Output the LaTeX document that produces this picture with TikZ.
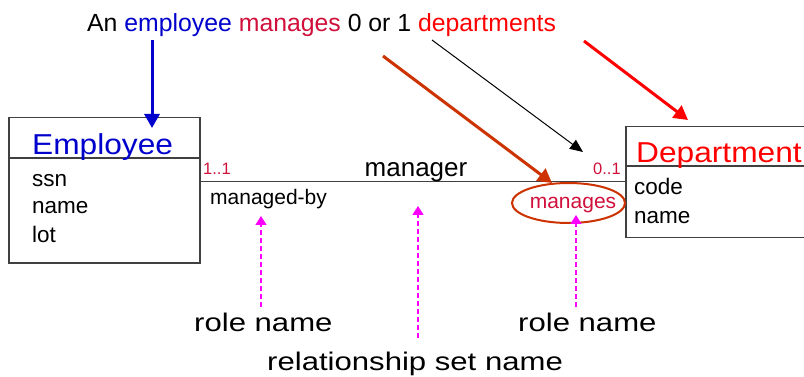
\documentclass[tikz,border=0pt]{standalone}
\usepackage{fontspec}
\setmainfont{Liberation Sans}
\newfontfamily\titlesans[FakeStretch=1.1]{Liberation Sans}
\newfontfamily\widesans[FakeStretch=1.22]{Liberation Sans}
\usetikzlibrary{arrows.meta,shapes.geometric}

\definecolor{empblue}{HTML}{0000CC}
\definecolor{crimsonred}{HTML}{D0103A}
\definecolor{deptred}{HTML}{FF0000}
\definecolor{rustline}{HTML}{CC3300}
\definecolor{boxgray}{HTML}{404040}
\definecolor{hintmag}{HTML}{FF00FF}

\newcommand{\fs}[1]{\fontsize{#1}{#1}\selectfont}

\tikzset{
  entitybox/.style={draw=boxgray, line width=1.5pt, rectangle, inner sep=0pt, anchor=north west},
  txt/.style={inner sep=0pt, anchor=base west},
  ctxt/.style={inner sep=0pt, anchor=base},
  bigarrow/.style={line width=3pt, -{Triangle[length=14pt,width=15pt]}},
  thinarrow/.style={line width=1pt, -{Triangle[length=13pt,width=11pt]}},
  hintarrow/.style={hintmag, line width=1.4pt, dash pattern=on 5pt off 3pt,
    -{Triangle[length=9pt,width=11pt]}},
}

\begin{document}
\begin{tikzpicture}[x=1pt, y=-1pt]
  \useasboundingbox (0,0) rectangle (804,377);
  \clip (0,0) rectangle (804,377);

  % sentence on top
  \node[txt] (sentence) at (87,32) {\fs{24.8}An \textcolor{empblue}{employee}
    \textcolor{crimsonred}{manages} 0 or 1 \textcolor{deptred}{departments}};

  % Employee entity
  \node[entitybox, minimum width=191pt, minimum height=145pt] (emp) at (8,117) {};
  \draw[boxgray, line width=1.5pt] (emp.west |- 0,158) -- (emp.east |- 0,158);
  \node[txt, text=empblue] (emptitle) at (32,155) {\titlesans\fs{28.8}Employee};
  \node[txt] (essn) at (32,186) {\fs{22.5}ssn};
  \node[txt] (ename) at (32,214) {\fs{22.5}name};
  \node[txt] (elot) at (32,243) {\fs{22.5}lot};

  % Department entity
  \node[entitybox, minimum width=200pt, minimum height=111pt] (dept) at (625,126) {};
  \draw[boxgray, line width=1.5pt] (dept.west |- 0,166) -- (dept.east |- 0,166);
  \node[txt, text=deptred] (depttitle) at (636,163) {\titlesans\fs{28.8}Department};
  \node[txt] (dcode) at (634,195) {\fs{22.5}code};
  \node[txt] (dname) at (634,223) {\fs{22.5}name};

  % relationship line
  \coordinate (relL) at (emp.east |- 0,181.5);
  \coordinate (relR) at (dept.west |- 0,181.5);
  \draw[boxgray, line width=1.5pt] (relL) -- (relR);

  % multiplicities and names
  \node[txt, text=crimsonred] (multL) at (203,175) {\fs{16.5}1..1};
  \node[txt, text=crimsonred] (multR) at (593,175) {\fs{16.5}0..1};
  \node[ctxt] (relname) at (416,177) {\fs{26}manager};
  \node[txt] (roleL) at (210,205) {\fs{21}managed-by};
  \node[ctxt, text=crimsonred] (roleR) at (573,208) {\fs{21}manages};
  \node[draw=rustline, line width=2pt, ellipse, minimum width=113pt,
        minimum height=40pt, inner sep=0pt] (ring) at (568.5,203) {};

  % pointers from the sentence
  \coordinate (bStart) at (152,40);
  \coordinate (bEnd) at (152,128);
  \draw[empblue, bigarrow] (bStart) -- (bEnd);

  \coordinate (oStart) at (383,56);
  \coordinate (oEnd) at (552,183);
  \draw[rustline, bigarrow] (oStart) -- (oEnd);

  \coordinate (kStart) at (432,40);
  \coordinate (kEnd) at (583,152);
  \draw[black, thinarrow] (kStart) -- (kEnd);

  \coordinate (rStart) at (584,41);
  \coordinate (rEnd) at (688,120);
  \draw[deptred, bigarrow] (rStart) -- (rEnd);

  % explanatory labels below
  \node[txt] (lblL) at (194,331) {\widesans\fs{25.5}role name};
  \node[txt] (lblR) at (518,331) {\widesans\fs{25.5}role name};
  \node[txt] (lblM) at (267,370) {\widesans\fs{25.5}relationship set name};

  \coordinate (hL) at (261,307);
  \coordinate (hLtip) at (261,216);
  \coordinate (hM) at (418,338);
  \coordinate (hMtip) at (418,206);
  \coordinate (hR) at (576,307);
  \coordinate (hRtip) at (576,215);
  \draw[hintarrow] (hL) -- (hLtip);
  \draw[hintarrow] (hM) -- (hMtip);
  \draw[hintarrow] (hR) -- (hRtip);
\end{tikzpicture}
\end{document}
